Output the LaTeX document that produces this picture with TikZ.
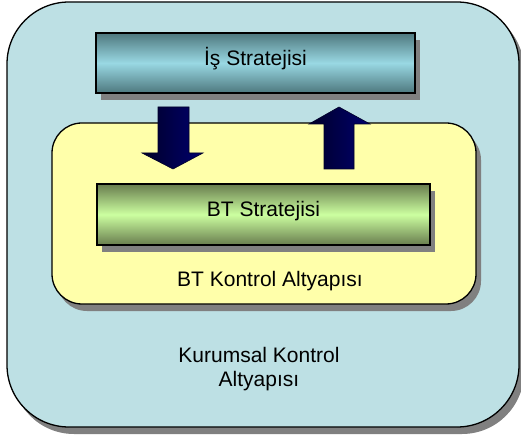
\documentclass[tikz,border=0pt]{standalone}
\usepackage{fontspec}
\setmainfont{Liberation Sans}
\usetikzlibrary{shadows}

\definecolor{outerfill}{RGB}{189,224,228}
\definecolor{innerfill}{RGB}{255,255,170}
\definecolor{tealdark}{RGB}{78,120,126}
\definecolor{teallight}{RGB}{153,216,227}
\definecolor{greendark}{RGB}{104,124,78}
\definecolor{greenlight}{RGB}{204,255,160}
\definecolor{navydark}{RGB}{0,0,40}
\definecolor{navylight}{RGB}{0,0,110}
\definecolor{shadowgray}{RGB}{128,128,128}

\begin{document}
\begin{tikzpicture}[x=1pt,y=-1pt,
    font=\fontsize{21}{24}\selectfont,
    sh/.style={drop shadow={shadow xshift=5pt,shadow yshift=-7pt,fill=shadowgray,opacity=1}},
    panel/.style={draw=black,line width=1.3pt,sh,inner sep=0pt,outer sep=0pt,anchor=north west},
    stratbox/.style={panel,rounded corners=0pt},
    lbl/.style={align=center,inner sep=0pt}]
    \useasboundingbox (0,0) rectangle (521,435);

    \node[panel,fill=outerfill,rounded corners=62pt,minimum width=512pt,minimum height=425pt,
          drop shadow={shadow xshift=5pt,shadow yshift=-6pt,fill=shadowgray,opacity=1}] (kurumsal) at (7,2) {};
    \node[panel,fill=innerfill,rounded corners=30pt,minimum width=424pt,minimum height=181pt] (btkontrol) at (52,123) {};

    \node[stratbox,top color=tealdark,bottom color=tealdark,middle color=teallight,
          minimum width=319pt,minimum height=60pt,text depth=14pt] (is) at (96,33) {İş Stratejisi};
    \node[stratbox,top color=greendark,bottom color=greendark,middle color=greenlight,
          minimum width=333pt,minimum height=61pt,text depth=12pt] (bt) at (97,184) {BT Stratejisi};

    \node[lbl] (btkontrollbl) at (270,281) {BT Kontrol Altyapısı};
    \node[lbl] (kurumsallbl) at (259,369) {Kurumsal Kontrol\\Altyapısı};

    % business to IT
    \shade[left color=navydark,right color=navylight,draw=navydark,line width=0.6pt]
      (158,107) -- (189,107) -- (189,153) -- (203,153) -- (173,169) -- (142,153) -- (158,153) -- cycle;
    % IT to business
    \shade[left color=navydark,right color=navylight,draw=navydark,line width=0.6pt]
      (324,169) -- (354,169) -- (354,124) -- (370,124) -- (339,107) -- (309,124) -- (324,124) -- cycle;
\end{tikzpicture}
\end{document}
